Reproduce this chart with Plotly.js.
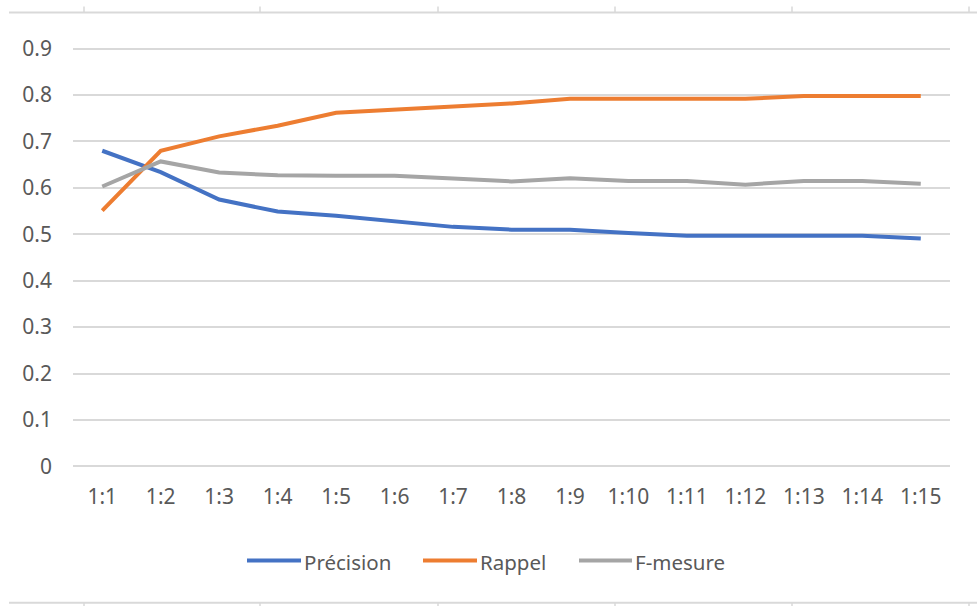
<!DOCTYPE html>
<html>
<head>
<meta charset="utf-8">
<script src="https://cdn.plot.ly/plotly-3.0.1.min.js"></script>
<style>
  html, body { margin: 0; padding: 0; background: #ffffff; }
  #chart { width: 977px; height: 606px; }
</style>
</head>
<body>
<div id="chart"></div>
<script>
// Ratio labels (positives : negatives)
const ratios = ["1:1","1:2","1:3","1:4","1:5","1:6","1:7","1:8","1:9","1:10","1:11","1:12","1:13","1:14","1:15"];

const precision = [0.680, 0.634, 0.575, 0.549, 0.540, 0.528, 0.516, 0.510, 0.510, 0.503, 0.497, 0.497, 0.497, 0.497, 0.491];
const rappel    = [0.551, 0.680, 0.711, 0.734, 0.762, 0.769, 0.776, 0.782, 0.792, 0.792, 0.792, 0.792, 0.798, 0.798, 0.798];
const fmesure   = [0.603, 0.657, 0.633, 0.627, 0.626, 0.626, 0.620, 0.614, 0.621, 0.615, 0.615, 0.607, 0.615, 0.615, 0.609];

const seriesNames  = ["Précision", "Rappel", "F-mesure"];
const seriesColors = ["#4472C4", "#ED7D31", "#A5A5A5"];
const seriesValues = [precision, rappel, fmesure];

const yTicks = [0, 0.1, 0.2, 0.3, 0.4, 0.5, 0.6, 0.7, 0.8, 0.9];
const yTickText = ["0", "0.1", "0.2", "0.3", "0.4", "0.5", "0.6", "0.7", "0.8", "0.9"];

// Figure geometry (pixels)
const W = 977, H = 606;
const M = { l: 73, r: 27, t: 44.4, b: 135.4 };
const plotW = W - M.l - M.r, plotH = H - M.t - M.b;
const px2x = px => (px - M.l) / plotW;
const px2y = py => (H - M.b - py) / plotH;

const FONT = '"Noto Sans", "Open Sans", sans-serif';
const TEXT_COLOR = "#595959";
const RULE_COLOR = "#d9d9d9";

const traces = seriesValues.map((vals, i) => ({
  type: "scatter",
  mode: "lines",
  x: ratios,
  y: vals,
  name: seriesNames[i],
  line: { color: seriesColors[i], width: 4, shape: "linear" },
  hoverinfo: "x+y+name"
}));

const shapes = [];
const annotations = [];

// Rules framing the figure at top and bottom, with small tick marks
const frameTicks = [84, 260, 438, 615, 792, 969];
shapes.push({ type: "line", xref: "paper", yref: "paper", x0: px2x(9), x1: px2x(977), y0: px2y(13), y1: px2y(13), line: { color: RULE_COLOR, width: 2 } });
shapes.push({ type: "line", xref: "paper", yref: "paper", x0: px2x(9), x1: px2x(977), y0: px2y(602), y1: px2y(602), line: { color: RULE_COLOR, width: 2 } });
frameTicks.forEach(tx => {
  shapes.push({ type: "line", xref: "paper", yref: "paper", x0: px2x(tx), x1: px2x(tx), y0: px2y(7), y1: px2y(13), line: { color: RULE_COLOR, width: 1.5 } });
  shapes.push({ type: "line", xref: "paper", yref: "paper", x0: px2x(tx), x1: px2x(tx), y0: px2y(602), y1: px2y(606), line: { color: RULE_COLOR, width: 1.5 } });
});

// Legend: long line swatches followed by labels
const legendY = 560;
const legendItems = [
  { x0: 247, x1: 301, tx: 304 },
  { x0: 423, x1: 477, tx: 480 },
  { x0: 579, x1: 632, tx: 635 }
];
legendItems.forEach((it, i) => {
  shapes.push({ type: "line", xref: "paper", yref: "paper", x0: px2x(it.x0), x1: px2x(it.x1), y0: px2y(legendY), y1: px2y(legendY), line: { color: seriesColors[i], width: 4 } });
  annotations.push({ xref: "paper", yref: "paper", x: px2x(it.tx), y: px2y(legendY + 1), xanchor: "left", yanchor: "middle", xshift: -2, showarrow: false, text: seriesNames[i], font: { family: FONT, size: 20.5, color: TEXT_COLOR } });
});

const layout = {
  width: W, height: H,
  margin: M,
  paper_bgcolor: "#ffffff",
  plot_bgcolor: "#ffffff",
  showlegend: false,
  font: { family: FONT, size: 21, color: TEXT_COLOR },
  xaxis: {
    type: "category",
    range: [-0.5, 14.5],
    showgrid: false,
    zeroline: false,
    showline: false,
    ticks: "",
    ticklabelstandoff: 11,
    tickfont: { family: FONT, size: 21, color: TEXT_COLOR },
    fixedrange: true
  },
  yaxis: {
    range: [-0.01, 0.91],
    tickvals: yTicks,
    ticktext: yTickText,
    showgrid: true,
    gridcolor: RULE_COLOR,
    gridwidth: 2,
    zeroline: false,
    showline: false,
    ticks: "",
    ticklabelstandoff: 20,
    tickfont: { family: FONT, size: 21, color: TEXT_COLOR },
    fixedrange: true
  },
  shapes: shapes,
  annotations: annotations
};

Plotly.newPlot("chart", traces, layout, { displayModeBar: false, staticPlot: true });
</script>
</body>
</html>
